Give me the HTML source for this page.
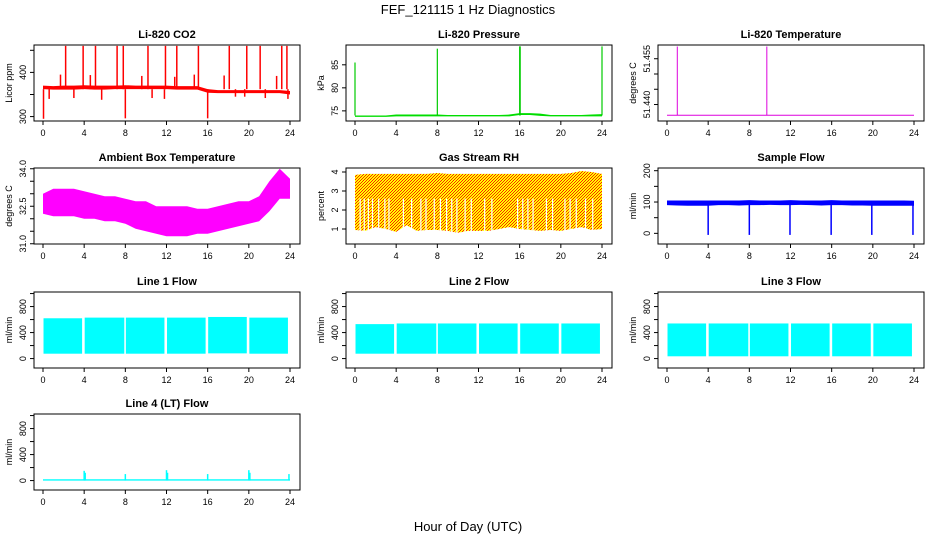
<!DOCTYPE html>
<html><head><meta charset="utf-8">
<style>
body{margin:0;background:#fff;}
svg{display:block;font-family:"Liberation Sans",Arial,sans-serif;}
</style></head>
<body>
<svg id="chart" width="936" height="540" viewBox="0 0 936 540">
<defs>
<pattern id="rhpat" width="3" height="3" patternUnits="userSpaceOnUse">
<rect width="3" height="3" fill="#ffff00"/>
<rect x="0" y="0" width="1" height="1" fill="#ff2000"/>
<rect x="2" y="1" width="1" height="1" fill="#ff2000"/>
<rect x="1" y="2" width="1" height="1" fill="#ff2000"/>
</pattern>
</defs>
<text x="468" y="14" font-size="13" text-anchor="middle">FEF_121115  1 Hz Diagnostics</text>
<text x="468" y="531" font-size="13" text-anchor="middle">Hour of Day (UTC)</text>
</svg>
<script>
// ---- data arrays ----
const xTicks = [0,4,8,12,16,20,24];
const hours = [0,1,2,3,4,5,6,7,8,9,10,11,12,13,14,15,16,17,18,19,20,21,22,23,24];

const co2Hi = [370,369,370,370,371,370,370,370,371,370,370,370,370,369,369,369,362,360,360,360,360,360,360,360,358];
const co2Lo = [362,361,361,361,362,361,361,362,362,362,362,362,362,361,361,361,354,353,353,353,353,353,353,353,350];
const co2SpikeH = [2.2,3.9,5.1,7.2,7.8,10.2,11.9,13.0,15.1,18.1,19.8,21.1,23.2,23.7,1.7,4.6,9.6,12.8,14.7,17.6,22.7];
const co2SpikeV = [460,460,460,460,460,460,460,460,460,460,460,460,460,460,395,394,392,390,395,393,392];
const co2DipH = [0.05,8.0,16.0,0.6,3.0,5.7,10.6,11.8,18.7,19.6,21.6,23.8];
const co2DipV = [295,296,296,340,342,338,342,340,345,345,342,340];

const presHi = [74.0,74.0,74.0,74.0,74.2,74.2,74.2,74.2,74.2,74.1,74.1,74.1,74.1,74.1,74.1,74.2,74.5,74.5,74.4,74.1,74.1,74.1,74.1,74.2,74.3];
const presLo = [73.7,73.7,73.7,73.7,73.8,73.8,73.8,73.8,73.8,73.8,73.8,73.8,73.8,73.8,73.8,73.8,74.1,74.1,73.9,73.8,73.8,73.8,73.8,73.8,73.8];
const presSpikeH = [0.0,8.0,16.0,16.05,24.0];
const presSpikeV = [85.5,88.5,89.0,89.0,89.0];

const tempBase = 51.4365;
const tempSpikeH = [1.0,9.7];
const tempSpikeV = [51.459,51.459];

const ambHi = [33.0,33.2,33.2,33.2,33.1,33.0,32.9,32.9,32.8,32.7,32.7,32.5,32.5,32.5,32.5,32.4,32.4,32.5,32.6,32.7,32.7,32.9,33.5,34.0,33.6];
const ambLo = [32.2,32.1,32.1,32.1,32.0,32.0,31.9,31.9,31.8,31.6,31.5,31.4,31.3,31.3,31.3,31.4,31.4,31.5,31.6,31.7,31.8,31.9,32.3,32.8,32.8];

const rhHi = [3.85,3.9,3.9,3.9,3.9,3.9,3.9,3.9,3.95,3.9,3.9,3.9,3.9,3.9,3.9,3.9,3.9,3.9,3.9,3.9,3.9,3.95,4.05,4.0,3.9];
const rhLo = [0.95,0.9,1.1,1.0,0.85,1.2,0.9,0.95,0.95,0.9,0.8,0.9,0.9,0.9,1.0,1.1,1.0,0.95,0.9,0.95,0.9,1.0,1.1,0.95,1.0];
const rhGapH = [0.5,0.9,1.3,1.7,2.3,2.9,3.3,4.7,5.5,6.4,6.9,7.7,8.3,8.9,9.4,9.9,10.7,11.3,12.6,13.3,15.8,16.3,16.8,17.3,18.6,19.2,20.4,20.9,21.5,22.4,23.1];

const sfHi = [105,105,105,105,105,105,105,105,106,105,105,105,106,105,105,105,106,105,105,105,105,105,105,105,104];
const sfLo = [90,89,88,88,88,90,90,89,90,90,91,90,90,91,90,89,90,90,89,89,88,88,88,88,88];
const sfDipH = [4.0,8.0,11.95,15.95,19.9,23.9];
const sfDipV = [-5,-5,-5,-5,-5,-5];

const segStart = [0.05,4.05,8.05,12.05,16.05,20.05];
const segEnd = [3.8,7.9,11.8,15.8,19.8,23.8];
const l1Hi = [620,630,630,630,640,630];
const l1Lo = [75,75,75,75,80,75];
const l2Hi = [530,540,540,540,540,540];
const l2Lo = [75,75,75,75,75,75];
const l3Hi = [540,540,540,540,540,540];
const l3Lo = [35,35,35,35,35,35];
const l4SpikeH = [4.0,4.1,8.0,12.0,12.1,16.0,20.0,20.1,23.9];
const l4SpikeV = [150,120,100,160,120,100,160,120,100];
const l4Base = [0,20];

// ---- layout ----
const colX = [0,312,624];
const rowY = [45,168,292,414];
const BL = 34, BR = 300, BH = 76;
const X0 = 43, X1 = 290;
const NS = 'http://www.w3.org/2000/svg';
const svg = document.getElementById('chart');

function mk(tag, attrs, parent){
  const e = document.createElementNS(NS, tag);
  for (const k in attrs) e.setAttribute(k, attrs[k]);
  (parent||svg).appendChild(e);
  return e;
}

function panel(col,row,title,ylab,dom,ticks,labels,name){
  const ox = colX[col], top = rowY[row], bot = top+BH;
  const g = mk('g',{});
  
  
  const xs = h => ox + X0 + (X1-X0)*h/24;
  const ys = v => bot - (v-dom[0])/(dom[1]-dom[0])*BH;
  const plot = mk('g',{},g);
  
  
  // box
  const box = mk('rect',{x:ox+BL,y:top,width:BR-BL,height:BH,fill:'none',stroke:'#000','stroke-width':1},g);
  
  
  const t = mk('text',{x:ox+167,y:top-7,'font-size':11,'font-weight':'bold','text-anchor':'middle'},g);
  t.textContent = title;
  
  
  // x axis
  const xa = mk('g',{},g);
  
  
  mk('line',{x1:xs(0),x2:xs(24),y1:bot,y2:bot,stroke:'#000'},xa);
  xTicks.forEach(v=>{
    mk('line',{x1:xs(v),x2:xs(v),y1:bot,y2:bot+4,stroke:'#000'},xa);
    const l = mk('text',{x:xs(v),y:bot+15,'font-size':9,'text-anchor':'middle'},xa);
    l.textContent = v;
    
    
  });
  // y axis
  const ya = mk('g',{},g);
  
  
  const ax = ox+BL;
  mk('line',{x1:ax,x2:ax,y1:ys(ticks[0]),y2:ys(ticks[ticks.length-1]),stroke:'#000'},ya);
  ticks.forEach(v=>{
    mk('line',{x1:ax-4,x2:ax,y1:ys(v),y2:ys(v),stroke:'#000'},ya);
  });
  labels.forEach(v=>{
    const yy = ys(parseFloat(v));
    const l = mk('text',{x:ox+26,y:yy,'font-size':9,'text-anchor':'middle',transform:`rotate(-90 ${ox+26} ${yy})`},ya);
    l.textContent = v;
    
    
  });
  const yl = mk('text',{x:ox+12,y:top+BH/2,'font-size':9,'text-anchor':'middle',transform:`rotate(-90 ${ox+12} ${top+BH/2})`},g);
  yl.textContent = ylab;
  
  
  return {plot,xs,ys};
}

function band(p,H,lo,hi,fill,name){
  let pts = H.map((h,i)=>p.xs(h)+','+p.ys(hi[i]));
  for(let i=H.length-1;i>=0;i--) pts.push(p.xs(H[i])+','+p.ys(lo[i]));
  const e = mk('polygon',{points:pts.join(' '),fill:fill},p.plot);
  
  
}
function spikes(p,H,V,base,color,w,name){
  H.forEach((h,i)=>{
    const e = mk('line',{x1:p.xs(h),x2:p.xs(h),y1:p.ys(base),y2:p.ys(V[i]),stroke:color,'stroke-width':w},p.plot);
    
    
  });
}

// CO2
let p = panel(0,0,'Li-820 CO2','Licor ppm',[290,462],[300,350,400,450],['300','400'],'co2');
band(p,hours,co2Lo,co2Hi,'#ff0000','co2-band');
spikes(p,co2SpikeH,co2SpikeV,362,'#ff0000',1.5,'co2-spike');
spikes(p,co2DipH,co2DipV,362,'#ff0000',1.5,'co2-dip');

// Pressure
p = panel(1,0,'Li-820 Pressure','kPa',[72.8,89.3],[75,80,85],['75','80','85'],'pressure');
band(p,hours,presLo,presHi,'#00dd00','pressure-band');
spikes(p,presSpikeH,presSpikeV,74,'#00cc00',1.2,'pressure-spike');

// Temperature
p = panel(2,0,'Li-820 Temperature','degrees C',[51.4346,51.4595],[51.440,51.445,51.450,51.455],['51.440','51.455'],'licor-temp');
{
  const e = mk('line',{x1:p.xs(0),x2:p.xs(24),y1:p.ys(tempBase),y2:p.ys(tempBase),stroke:'#dd00dd','stroke-width':1},p.plot);
  
  
}
spikes(p,tempSpikeH,tempSpikeV,tempBase,'#dd00dd',1,'licor-temp-spike');

// Ambient
p = panel(0,1,'Ambient Box Temperature','degrees C',[30.99,34.03],[31.0,31.5,32.0,32.5,33.0,33.5,34.0],['31.0','32.5','34.0'],'ambient');
band(p,hours,ambLo,ambHi,'#ff00ff','ambient-band');

// RH
p = panel(1,1,'Gas Stream RH','percent',[0.21,4.21],[1,2,3,4],['1','2','3','4'],'rh');
band(p,hours,rhLo,rhHi,'url(#rhpat)','rh-band');
rhGapH.forEach(h=>{
  const e = mk('line',{x1:p.xs(h),x2:p.xs(h),y1:p.ys(0.8),y2:p.ys(2.6),stroke:'#fff','stroke-width':1.2},p.plot);
  
  
});

// Sample flow
p = panel(2,1,'Sample Flow','ml/min',[-34,208.6],[0,50,100,150,200],['0','100','200'],'sample-flow');
band(p,hours,sfLo,sfHi,'#0000ff','sample-flow-band');
spikes(p,sfDipH,sfDipV,95,'#0000ff',1.5,'sample-flow-dip');

// Line flows
const fdom = [-145,1024], fticks=[0,200,400,600,800,1000], flabs=['0','400','800'];
function segs(p,lo,hi,name){
  segStart.forEach((s,i)=>{
    const e = mk('rect',{x:p.xs(s),y:p.ys(hi[i]),width:p.xs(segEnd[i])-p.xs(s),height:p.ys(lo[i])-p.ys(hi[i]),fill:'#00ffff'},p.plot);
    
    
  });
}
p = panel(0,2,'Line 1 Flow','ml/min',fdom,fticks,flabs,'line1-flow');
segs(p,l1Lo,l1Hi,'line1-flow-segment');
p = panel(1,2,'Line 2 Flow','ml/min',fdom,fticks,flabs,'line2-flow');
segs(p,l2Lo,l2Hi,'line2-flow-segment');
p = panel(2,2,'Line 3 Flow','ml/min',fdom,fticks,flabs,'line3-flow');
segs(p,l3Lo,l3Hi,'line3-flow-segment');
p = panel(0,3,'Line 4 (LT) Flow','ml/min',fdom,fticks,flabs,'line4-flow');
band(p,[0,24],[l4Base[0],l4Base[0]],[l4Base[1],l4Base[1]],'#00ffff','line4-flow-base');
spikes(p,l4SpikeH,l4SpikeV,0,'#00ffff',1.5,'line4-flow-spike');
</script>
</body></html>
